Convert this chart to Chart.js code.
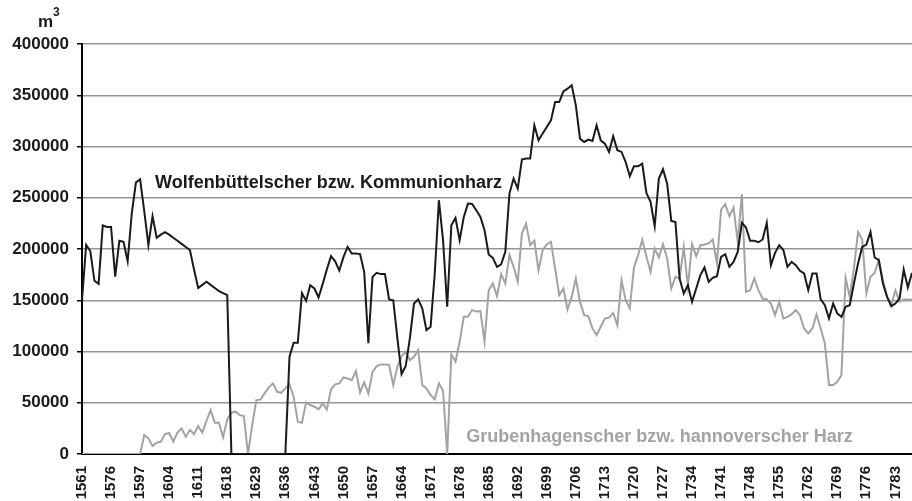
<!DOCTYPE html>
<html><head><meta charset="utf-8">
<script src="https://cdn.jsdelivr.net/npm/chart.js@4/dist/chart.umd.min.js"></script>
<style>html,body{margin:0;padding:0;background:#fff}#wrap{width:912px;height:501px;position:relative;overflow:hidden}</style>
</head><body><div id="wrap"><canvas id="c" width="912" height="501"></canvas></div>
<script>
const years = [
1561,1563,1565,1567,1570,1572,1574,1576,1579,1582,1585,1588,1591,1594,
1597,1598,1599,1600,1601,1602,1603,1604,1605,1606,1607,1608,1609,1610,1611,1612,1613,1614,1615,1616,1617,1618,
1619,1620,1621,1623,1625,1627,
1629,1630,1631,1632,1633,1634,1635,1636,1637,1638,1639,1640,1641,1642,1643,1644,1645,1646,1647,1648,1649,1650,
1651,1652,1653,1654,1655,1656,1657,1658,1659,1660,1661,1662,1663,1664,1665,1666,1667,1668,1669,1670,1671,1672,
1673,1674,1675,1676,1677,1678,1679,1680,1681,1682,1683,1684,1685,1686,1687,1688,1689,1690,1691,1692,1693,1694,
1695,1696,1697,1698,1699,1700,1701,1702,1703,1704,1705,1706,1707,1708,1709,1710,1711,1712,1713,1714,1715,1716,
1717,1718,1719,1720,1721,1722,1723,1724,1725,1726,1727,1728,1729,1730,1731,1732,1733,1734,1735,1736,1737,1738,
1739,1740,1741,1742,1743,1744,1745,1746,1747,1748,1749,1750,1751,1752,1753,1754,1755,1756,1757,1758,1759,1760,
1761,1762,1763,1764,1765,1766,1767,1768,1769,1770,1771,1772,1773,1774,1775,1776,1777,1778,1779,1780,1781,1782,
1783,1784,1785,1786,1787];

const tickLabels = [1561,1576,1597,1604,1611,1618,1629,1636,1643,1650,1657,1664,1671,1678,1685,1692,1699,1706,1713,1720,1727,1734,1741,1748,1755,1762,1769,1776,1783];

const yTickValues = [0,50000,100000,150000,200000,250000,300000,350000,400000];

// Wolfenbüttelscher bzw. Kommunionharz (m³)
const wolfenbuettel = [
150000,204000,198000,169000,166000,223000,221500,221500,173000,208000,
207000,188000,235000,265000,268000,237000,204000,232000,211000,214000,
216500,214000,211000,208000,205000,202000,199000,180000,162000,165000,
168000,165000,162000,159000,157000,155000,0,0,0,0,
0,0,0,0,0,0,0,0,0,0,
95000,108500,108500,157000,149500,164700,161500,152700,166000,180000,
193000,188000,179000,192000,202000,195600,195500,195000,177700,108000,
172800,176700,175500,175500,150800,150000,112700,78000,85800,112700,
146800,150800,142000,120900,124100,176100,247600,208600,143600,223200,
230300,208600,231300,244300,244000,237800,231300,218300,194600,191300,
182600,185000,197200,254100,268700,259000,287300,288200,288200,320700,
306000,312600,319000,325500,343400,343400,353800,356400,359700,340200,
307700,304400,306700,305400,320700,306000,302800,294700,310000,296300,
294700,284900,271000,280700,280700,283300,254700,246000,222200,268700,
277800,263800,227400,226400,171200,156600,164700,148400,161500,174500,
182000,168000,171900,173500,192300,194900,182600,187400,197200,225500,
221000,208000,208000,206600,209300,225500,184200,196200,203700,199000,
182600,187400,184200,178700,176100,159800,176100,176100,150800,145200,
132300,146800,137100,133800,143600,145200,166400,185900,202000,204400,
216700,191700,189100,166400,153300,144200,146800,151700,180000,162400,
176700];

// Grubenhagenscher bzw. hannoverscher Harz (m³)
const grubenhagen = [
0,0,0,0,0,0,0,0,0,0,
0,0,0,0,0,18500,15300,7800,11000,12000,
19500,20500,12000,20800,25000,16900,23400,19500,27300,20800,
32500,42900,30500,30500,16300,33800,40300,41300,38000,37000,
0,28000,52600,53000,59100,65000,68900,60700,59700,64000,
67900,55900,31500,30500,50400,47800,46100,43500,49400,43500,
63000,67900,68900,74700,73700,72100,81000,60000,70000,59000,
80000,85800,87400,87400,87000,67300,85100,95500,99700,91600,
94800,101400,67300,64000,57500,53300,68900,61700,0,97200,
90000,109500,133800,133800,140400,139000,139500,109500,159800,166400,
154000,175500,166400,194000,182600,168000,215100,224800,203700,208000,
179300,198800,204700,207000,181000,155000,161500,141000,153300,171200,
148400,135500,134500,122500,116000,124100,132300,133000,137700,125700,
169600,150100,142000,182000,194000,209000,193000,177700,200500,191700,
204700,190700,161500,172800,171200,202000,163100,204700,193000,203700,
204400,205400,209300,185900,238500,243700,232000,240500,207000,253400,
158200,159800,171200,159800,151700,150800,146800,135500,148400,132300,
133800,136400,140400,135500,122500,117600,122500,136100,122500,107900,
67300,67300,70500,77000,172000,153300,181000,216700,209300,156600,
172800,176700,189100,169600,153300,145200,159800,148400,150800,150800,
150500];

const seriesNames = ['Wolfenbüttelscher bzw. Kommunionharz', 'Grubenhagenscher bzw. hannoverscher Harz'];
const seriesColors = ['#1a1a1a', '#a3a3a3'];
// label anchors in data space: [category index, value]
const labelAnchors = [[17.6, 264000], [92.6, 16500]];
const unitLabel = ['m', '3'];

const FONT = '"Liberation Sans", Arial, sans-serif';

const annot = {
  id: 'annot',
  afterDraw(chart) {
    const {ctx, scales: {x, y}, chartArea} = chart;
    ctx.save();
    ctx.font = 'bold 18px ' + FONT;
    ctx.textBaseline = 'middle';
    ctx.textAlign = 'left';
    seriesNames.forEach((t, k) => {
      ctx.fillStyle = seriesColors[k];
      ctx.fillText(t, x.getPixelForValue(labelAnchors[k][0]), y.getPixelForValue(labelAnchors[k][1]));
    });
    ctx.fillStyle = '#1a1a1a';
    ctx.textBaseline = 'alphabetic';
    ctx.font = 'bold 17px ' + FONT;
    ctx.fillText(unitLabel[0], chartArea.left - 44, chartArea.top - 17);
    ctx.font = 'bold 12px ' + FONT;
    ctx.fillText(unitLabel[1], chartArea.left - 29, chartArea.top - 28);
    ctx.restore();
  }
};

new Chart(document.getElementById('c'), {
  type: 'line',
  data: {
    labels: years,
    datasets: [
      {label: seriesNames[1], data: grubenhagen, borderColor: seriesColors[1], borderWidth: 2, pointRadius: 0, tension: 0, order: 2},
      {label: seriesNames[0], data: wolfenbuettel, borderColor: seriesColors[0], borderWidth: 2, pointRadius: 0, tension: 0, order: 1}
    ]
  },
  options: {
    responsive: false,
    animation: false,
    layout: {padding: {top: 44, right: 0, left: 0, bottom: 0}},
    plugins: {legend: {display: false}, tooltip: {enabled: false}},
    scales: {
      x: {
        grid: {display: false, drawTicks: false},
        border: {color: '#000', width: 2},
        ticks: {
          autoSkip: false, maxRotation: 90, minRotation: 90, padding: 12,
          color: '#1a1a1a', font: {family: FONT, weight: 'bold', size: 15},
          callback: (v, i) => tickLabels.includes(years[i]) ? String(years[i]) : ''
        },
        afterFit: s => { s.height = 47; s.paddingRight = 0; s.paddingLeft = 0; }
      },
      y: {
        min: 0, max: 400000,
        afterBuildTicks: s => { s.ticks = yTickValues.map(v => ({value: v})); },
        ticks: {padding: 8, color: '#1a1a1a', font: {family: FONT, weight: 'bold', size: 17},
          callback: v => String(v)},
        grid: {color: '#959595', lineWidth: 1.5, tickLength: 5, tickColor: '#000'},
        border: {color: '#000', width: 2},
        afterFit: s => { s.width = 82; s.paddingTop = 0; s.paddingBottom = 0; }
      }
    }
  },
  plugins: [annot]
});
</script>
</body></html>
